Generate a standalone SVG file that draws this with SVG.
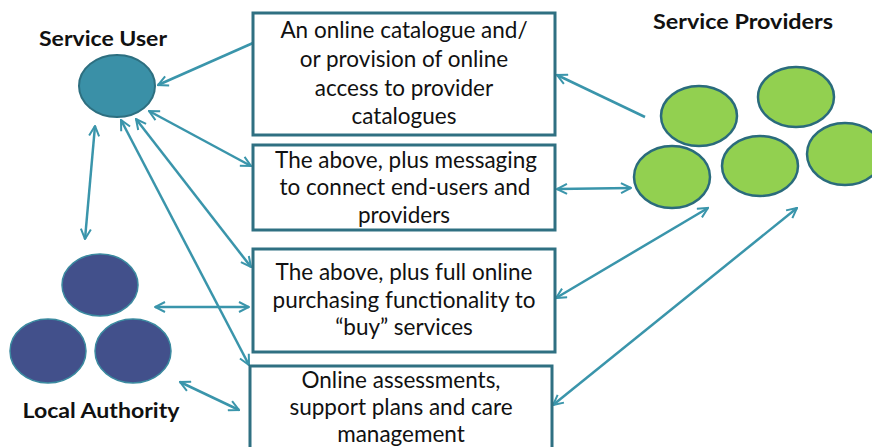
<svg xmlns="http://www.w3.org/2000/svg" width="872" height="447" viewBox="0 0 872 447">
  <style>
    .box { fill: #ffffff; stroke: #2f7082; stroke-width: 3; }
    .txt { font-family: Lato, "Open Sans", "Liberation Sans", sans-serif; font-size: 22.5px; fill: #111111; text-anchor: middle; }
    .lbl { font-family: Lato, "Open Sans", "Liberation Sans", sans-serif; font-size: 21px; font-weight: bold; fill: #111111; text-anchor: middle; }
    .user { fill: #3a90a7; stroke: #2d6f80; stroke-width: 2; }
    .la { fill: #42508b; stroke: #3b8aa0; stroke-width: 1.5; }
    .sp { fill: #92d050; stroke: #2a6b7c; stroke-width: 2.5; }
    .link { stroke: #3a95ab; stroke-width: 2.5; fill: none; }
    .one { marker-end: url(#head); }
    .two { marker-start: url(#head); marker-end: url(#head); }
  </style>
  <defs>
    <marker id="head" viewBox="0 0 10 10" refX="9" refY="5" markerWidth="5" markerHeight="5" orient="auto-start-reverse" markerUnits="strokeWidth">
      <path d="M1,1 L9,5 L1,9" fill="none" stroke="#3a95ab" stroke-width="1.6"/>
    </marker>
  </defs>

  <rect width="872" height="447" fill="#ffffff"/>

  <!-- connectors -->
  <g id="connectors">
    <line class="link one" x1="253" y1="43" x2="158" y2="85"/>
    <line class="link one" x1="645" y1="117" x2="557" y2="75"/>
    <line class="link two" x1="149" y1="111" x2="251" y2="166"/>
    <line class="link two" x1="557" y1="189" x2="631" y2="188"/>
    <line class="link two" x1="136" y1="119" x2="251" y2="267"/>
    <line class="link two" x1="121" y1="120" x2="249" y2="365"/>
    <line class="link two" x1="95" y1="126" x2="85" y2="239"/>
    <line class="link two" x1="155" y1="307" x2="249" y2="307"/>
    <line class="link two" x1="180" y1="382" x2="239" y2="410"/>
    <line class="link two" x1="556" y1="298" x2="708" y2="208"/>
    <line class="link two" x1="553" y1="405" x2="797" y2="208"/>
  </g>

  <!-- service user -->
  <g id="service-user">
    <text class="lbl" x="103" y="46" textLength="128" lengthAdjust="spacingAndGlyphs">Service User</text>
    <ellipse class="user" cx="117" cy="86" rx="38" ry="31"/>
  </g>

  <!-- local authority -->
  <g id="local-authority">
    <ellipse class="la" cx="100" cy="285" rx="38" ry="31"/>
    <ellipse class="la" cx="48" cy="351" rx="38" ry="32"/>
    <ellipse class="la" cx="133" cy="351" rx="38" ry="32"/>
    <text class="lbl" x="101" y="418" textLength="157" lengthAdjust="spacingAndGlyphs">Local Authority</text>
  </g>

  <!-- service providers -->
  <g id="service-providers">
    <text class="lbl" x="743" y="29" textLength="180" lengthAdjust="spacingAndGlyphs">Service Providers</text>
    <ellipse class="sp" cx="699" cy="116" rx="38" ry="30"/>
    <ellipse class="sp" cx="796" cy="97" rx="38" ry="30"/>
    <ellipse class="sp" cx="672" cy="177" rx="38" ry="31"/>
    <ellipse class="sp" cx="760" cy="166" rx="38" ry="30"/>
    <ellipse class="sp" cx="845" cy="154" rx="38" ry="31"/>
  </g>

  <!-- service levels -->
  <g id="catalogue">
    <rect class="box" x="253" y="13" width="302" height="122"/>
    <text class="txt" x="404" y="38">An online catalogue and/</text>
    <text class="txt" x="404" y="67">or provision of online</text>
    <text class="txt" x="404" y="96">access to provider</text>
    <text class="txt" x="404" y="124">catalogues</text>
  </g>

  <g id="messaging">
    <rect class="box" x="253" y="145" width="302" height="85"/>
    <text class="txt" x="406" y="168">The above, plus messaging</text>
    <text class="txt" x="405" y="195">to connect end-users and</text>
    <text class="txt" x="404" y="223">providers</text>
  </g>

  <g id="purchasing">
    <rect class="box" x="253" y="249" width="302" height="103"/>
    <text class="txt" x="404" y="280">The above, plus full online</text>
    <text class="txt" x="404" y="308">purchasing functionality to</text>
    <text class="txt" x="404" y="335">“buy” services</text>
  </g>

  <g id="assessments">
    <rect class="box" x="250" y="366" width="302" height="95"/>
    <text class="txt" x="401" y="388">Online assessments,</text>
    <text class="txt" x="401" y="415">support plans and care</text>
    <text class="txt" x="401" y="442">management</text>
  </g>
</svg>
